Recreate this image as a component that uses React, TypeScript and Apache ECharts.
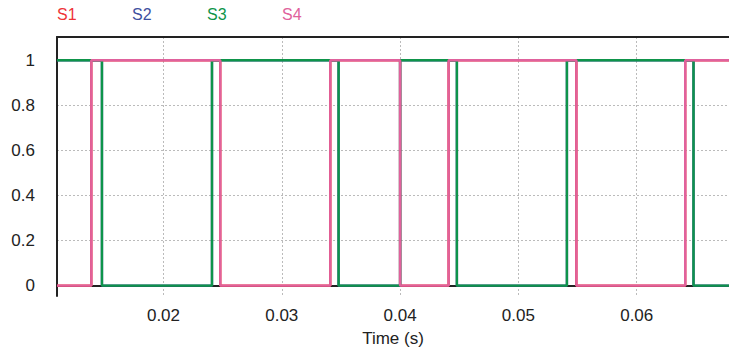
import React, { useEffect, useRef } from "react";
import * as echarts from "echarts";

const seriesNames = ["S1", "S2", "S3", "S4"];
const seriesColors = ["#EE3338", "#3E4FA0", "#0E944A", "#E0619C"];
// transition times (s) and levels of each switching signal
const pinkTimes = [0.011, 0.0139, 0.0248, 0.0341, 0.04, 0.0441, 0.0549, 0.0641, 0.0678];
const pinkLevels = [0, 1, 0, 1, 0, 1, 0, 1, 1];
const greenTimes = [0.011, 0.0148, 0.0241, 0.0348, 0.04, 0.0448, 0.0541, 0.0648, 0.0678];
const greenLevels = [1, 0, 1, 0, 1, 0, 1, 0, 0];
const xTicks = [0.02, 0.03, 0.04, 0.05, 0.06];
const yTicks = [0, 0.2, 0.4, 0.6, 0.8, 1];

const toPairs = (t: number[], v: number[]) => t.map((x, i) => [x, v[i]]);
const seriesData = [
  toPairs(pinkTimes, pinkLevels), // S1
  toPairs(greenTimes, greenLevels), // S2
  toPairs(greenTimes, greenLevels), // S3
  toPairs(pinkTimes, pinkLevels), // S4
];

export default function App() {
  const ref = useRef<HTMLDivElement>(null);
  useEffect(() => {
    const chart = echarts.init(ref.current!, null, { renderer: "svg" });
    const font = "'Liberation Sans', Arial, sans-serif";
    chart.setOption({
      animation: false,
      textStyle: { fontFamily: font },
      grid: { left: 57, right: 0, top: 37, bottom: 53, containLabel: false },
      graphic: seriesNames.map((n, i) => ({
        type: "text",
        x: 57 + i * 75,
        y: 6,
        style: { text: n, fill: seriesColors[i], font: `16px ${font}` },
      })),
      xAxis: [
        {
          type: "value",
          min: 0.011,
          max: 0.0678,
          name: "Time (s)",
          nameLocation: "middle",
          nameGap: 34,
          nameTextStyle: { color: "#222", fontSize: 17, fontFamily: font },
          axisLine: { show: true, lineStyle: { color: "#222", width: 2 } },
          axisTick: { show: false, customValues: xTicks },
          axisLabel: {
            customValues: xTicks,
            color: "#222",
            fontSize: 17,
            margin: 11,
            fontFamily: font,
            formatter: (v: number) => v.toFixed(2),
          },
          splitLine: {
            show: true,
            lineStyle: { color: "#bbb", type: [2, 2], width: 1 },
          },
        },
        {
          type: "value",
          position: "top",
          min: 0.011,
          max: 0.0678,
          axisLine: { show: true, lineStyle: { color: "#222", width: 2 } },
          axisTick: { show: false },
          axisLabel: { show: false },
          splitLine: { show: false },
        },
      ],
      yAxis: {
        type: "value",
        min: -0.046,
        max: 1.103,
        axisLine: { show: true, onZero: false, lineStyle: { color: "#222", width: 2 } },
        axisTick: { show: false, customValues: yTicks },
        axisLabel: {
          customValues: yTicks,
          color: "#222",
          fontSize: 17,
          margin: 22,
          fontFamily: font,
          formatter: (v: number) => String(Math.round(v * 10) / 10),
        },
        splitLine: {
          show: true,
          lineStyle: { color: "#bbb", type: [2, 2], width: 1 },
        },
      },
      series: seriesNames.map((n, i) => ({
        name: n,
        type: "line",
        step: "end",
        xAxisIndex: 0,
        data: seriesData[i],
        showSymbol: false,
        symbol: "none",
        lineStyle: { color: seriesColors[i], width: 2.4 },
        z: 2 + i,
      })),
    });
    return () => chart.dispose();
  }, []);
  return (
    <div
      ref={ref}
      style={{ position: "fixed", left: 0, top: 0, width: 729, height: 352, background: "#fff" }}
    />
  );
}
